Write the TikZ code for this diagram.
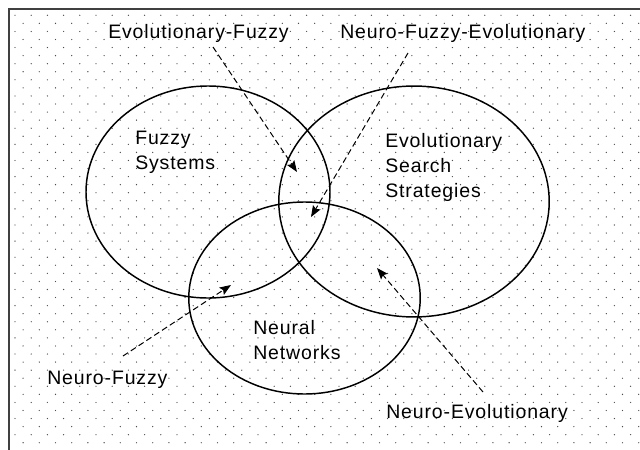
\documentclass[tikz,border=0pt]{standalone}
\usepackage{fontspec}
\setmainfont{Liberation Sans}[LetterSpace=4.5]
\usetikzlibrary{arrows.meta}
\begin{document}
\begin{tikzpicture}[x=0.75pt,y=-0.75pt,
  lbl/.style={anchor=base west,inner sep=0pt,font=\fontsize{14.6}{18}\selectfont},
  setline/.style={draw=black,line width=1.1pt},
  pointer/.style={draw=black,line width=0.75pt,dash pattern=on 4.5pt off 2.5pt,
     -{Stealth[length=8.5pt,width=6.5pt,inset=1.5pt]}},
  framel/.style={draw=black!75,line width=1.5pt}]
\useasboundingbox (0,0) rectangle (640,450);
\fill[white] (0,0) rectangle (640,450);
% dot grid
\foreach \i in {0,...,27}{
  \foreach \j in {0,...,39}{
    \fill[black!70] ({15+16.2*\j},{15.3+16.13*\i}) circle (0.5pt);
  }
  \foreach \j in {1,...,39}{
    \fill[black!70] ({6.9+16.2*\j},{23.35+16.13*\i}) circle (0.5pt);
  }
}
% frame
\draw[framel] (8,9) -- (641,9);
\draw[framel] (9,8) -- (9,451);
% sets
\draw[setline] (208,192) ellipse [x radius=91.5pt, y radius=79.5pt];
\draw[setline] (414,201.5) ellipse [x radius=101.4pt, y radius=86.6pt];
\draw[setline] (304.5,298) ellipse [x radius=86.8pt, y radius=72pt];
% labels
\node[lbl] (ef) at (108,38) {Evolutionary-Fuzzy};
\node[lbl] (nfe) at (340,38) {Neuro-Fuzzy-Evolutionary};
\node[lbl] (fz1) at (135,144) {Fuzzy};
\node[lbl] (fz2) at (135,169) {Systems};
\node[lbl] (ev1) at (385,147) {Evolutionary};
\node[lbl] (ev2) at (385,172) {Search};
\node[lbl] (ev3) at (385,197) {Strategies};
\node[lbl] (nn1) at (253,334) {Neural};
\node[lbl] (nn2) at (253,359) {Networks};
\node[lbl] (nf) at (47,384) {Neuro-Fuzzy};
\node[lbl] (ne) at (386,418) {Neuro-Evolutionary};
% pointer endpoints
\coordinate (efs) at (213,47);  \coordinate (eft) at (297,172);
\coordinate (nfes) at (408,53); \coordinate (nfet) at (311,217);
\coordinate (nfs) at (123,356); \coordinate (nft) at (231,285);
\coordinate (nes) at (483,392); \coordinate (net) at (377,268);
\draw[pointer] (efs) -- (eft);
\draw[pointer] (nfes) -- (nfet);
\draw[pointer] (nfs) -- (nft);
\draw[pointer] (nes) -- (net);
\end{tikzpicture}
\end{document}
